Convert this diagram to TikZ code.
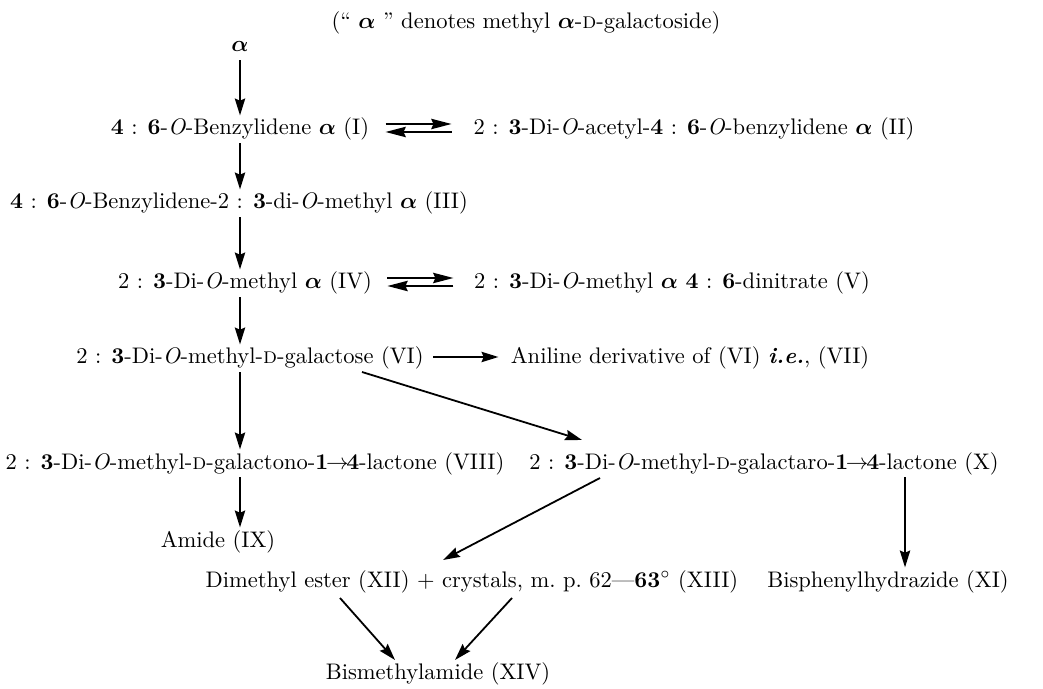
\documentclass[tikz,border=0pt]{standalone}
\usepackage{amsmath}
\usetikzlibrary{arrows.meta,calc}
\newcommand{\al}{\ensuremath{\boldsymbol{\alpha}}}
\newcommand{\Dd}{\textsc{d}}
\newcommand{\Oi}{\textit{O}}
\begin{document}
\begin{tikzpicture}[x=0.444pt,y=-0.444pt,
  cpd/.style={anchor=base,inner sep=0pt,text height=7pt,text depth=2pt},
  arr/.style={line width=0.8pt,-{Stealth[length=7.5pt,width=4.6pt,inset=1pt]},shorten <=1.5pt,shorten >=1.5pt},
  eq/.style={line width=0.8pt,-{Stealth[length=9pt,width=4.6pt,inset=1pt]}}]
\useasboundingbox (0,0) rectangle (1043,689);
\coordinate (col) at (240,0);
\node[cpd] (title) at (526,29) {(``\ \al\ '' denotes methyl \al-\Dd-galactoside)};
\node[cpd] (alpha) at (240,52) {\al};
\node[cpd] (I) at (240,135) {\textbf{4} : \textbf{6}-\Oi-Benzylidene \al\ (I)};
\node[cpd] (II) at (694,135) {2 : \textbf{3}-Di-\Oi-acetyl-\textbf{4} : \textbf{6}-\Oi-benzylidene \al\ (II)};
\node[cpd] (III) at (239,209) {\textbf{4} : \textbf{6}-\Oi-Benzylidene-2 : \textbf{3}-di-\Oi-methyl \al\ (III)};
\node[cpd] (IV) at (245,289) {2 : \textbf{3}-Di-\Oi-methyl \al\ (IV)};
\node[cpd] (V) at (672,289) {2 : \textbf{3}-Di-\Oi-methyl \al\ \textbf{4} : \textbf{6}-dinitrate (V)};
\node[cpd] (VI) at (250,364) {2 : \textbf{3}-Di-\Oi-methyl-\Dd-galactose (VI)};
\node[cpd] (VII) at (690,364) {Aniline derivative of (VI) \textbf{\textit{i.e.}}, (VII)};
\node[cpd] (VIII) at (255,469) {2 : \textbf{3}-Di-\Oi-methyl-\Dd-galactono-\textbf{1}\kern-1pt$\rightarrow$\kern-1pt\textbf{4}-lactone (VIII)};
\node[cpd] (X) at (764,469) {2 : \textbf{3}-Di-\Oi-methyl-\Dd-galactaro-\textbf{1}\kern-1pt$\rightarrow$\kern-1pt\textbf{4}-lactone (X)};
\node[cpd] (IX) at (218,547) {Amide (IX)};
\node[cpd] (XII) at (472,587) {Dimethyl ester (XII) + crystals, m.\ p.\ 62---\textbf{63}$^\circ$ (XIII)};
\node[cpd] (XI) at (888,587) {Bisphenylhydrazide (XI)};
\node[cpd] (XIV) at (438,679) {Bismethylamide (XIV)};
\coordinate (xicol) at (905,0);
% vertical chain
\draw[arr] (alpha.south -| col) -- (I.north -| col);
\draw[arr] (I.south -| col) -- (III.north -| col);
\draw[arr] (III.south -| col) -- (IV.north -| col);
\draw[arr] (IV.south -| col) -- (VI.north -| col);
\draw[arr] (VI.south -| col) -- (VIII.north -| col);
\draw[arr] (VIII.south -| col) -- (IX.north -| col);
% equilibria
\draw[eq] ($(I.base east)+(16,-11)$) -- ($(I.base east)+(82,-11)$);
\draw[eq] ($(I.base east)+(82,-3)$) -- ($(I.base east)+(16,-3)$);
\draw[eq] ($(IV.base east)+(15,-11)$) -- ($(IV.base east)+(81,-11)$);
\draw[eq] ($(IV.base east)+(81,-3)$) -- ($(IV.base east)+(15,-3)$);
% others
\draw[arr,shorten <=0pt,shorten >=0pt] ($(VI.base east)+(9,-7)$) -- ($(VII.base west)+(-12,-7)$);
\draw[arr,shorten <=0pt,shorten >=0pt] ($(VI.base)+(112,8)$) -- ($(X.base)+(-182,-29)$);
\draw[arr,shorten <=0pt,shorten >=0pt] ($(X.base)+(-164,9)$) -- ($(XII.base)+(-29,-27)$);
\draw[arr] (X.south -| xicol) -- (XI.north -| xicol);
\draw[arr,shorten <=0pt,shorten >=0pt] ($(XII.base)+(-132,11)$) -- ($(XIV.base)+(-43,-19)$);
\draw[arr,shorten <=0pt,shorten >=0pt] ($(XII.base)+(40,11)$) -- ($(XIV.base)+(17,-19)$);
\end{tikzpicture}
\end{document}
